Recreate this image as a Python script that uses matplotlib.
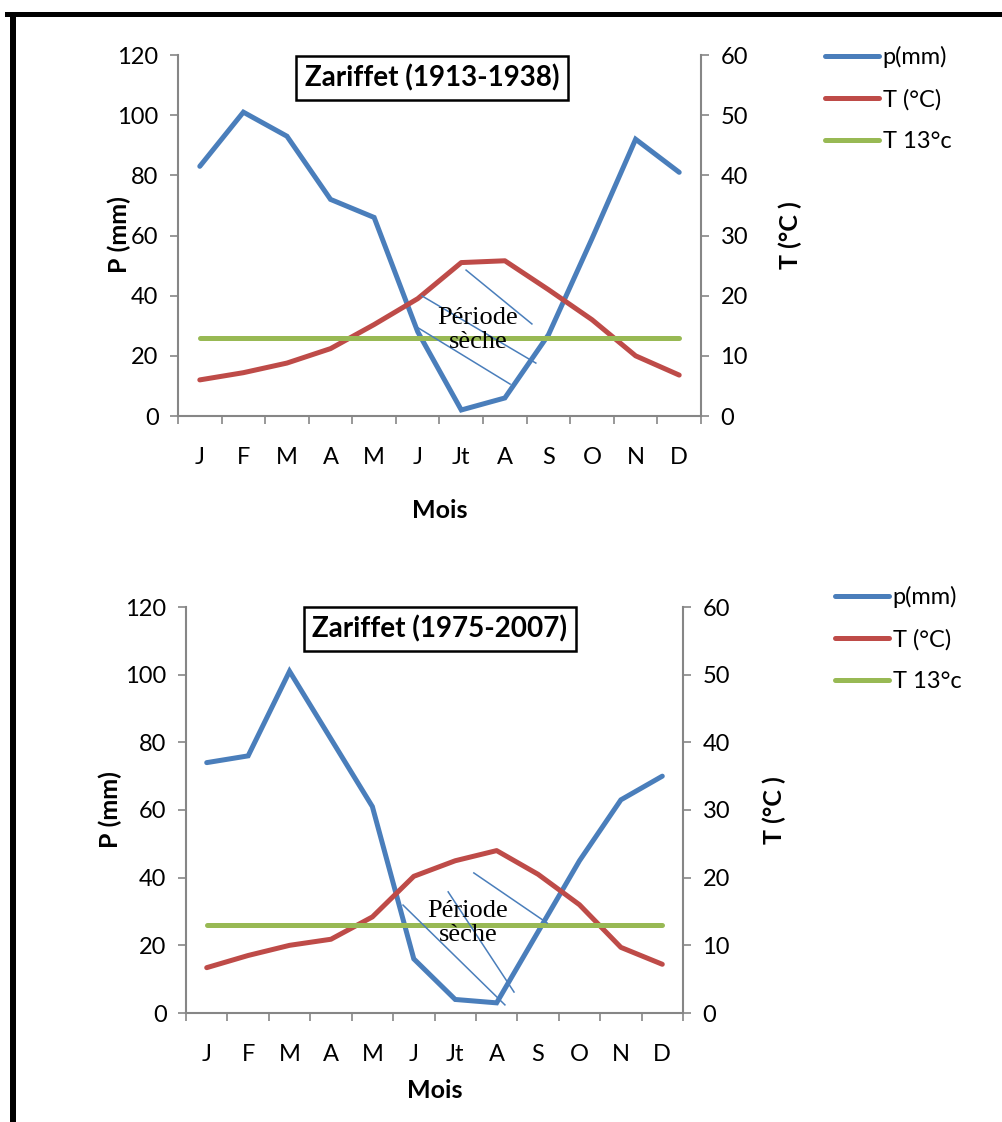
import numpy as np
import matplotlib
matplotlib.use('Agg')
import matplotlib.pyplot as plt
from matplotlib.patches import Rectangle

plt.rcParams['font.family'] = ['Lato', 'DejaVu Sans']

# --- DONNEES ---
mois = ['J', 'F', 'M', 'A', 'M', 'J', 'Jt', 'A', 'S', 'O', 'N', 'D']

p_1913 = [83, 101, 93, 72, 66, 28, 2, 6, 27, 59, 92, 81]
t_1913 = [6.0, 7.2, 8.8, 11.2, 15.2, 19.5, 25.5, 25.8, 21.0, 16.0, 10.0, 6.8]

p_1975 = [74, 76, 101, 81, 61, 16, 4, 3, 24, 45, 63, 70]
t_1975 = [6.7, 8.5, 10.0, 10.9, 14.2, 20.2, 22.5, 24.0, 20.5, 16.0, 9.7, 7.2]

t_seuil = 13

# traits de hachure "Période sèche" (x = index mois, y = P en mm)
hach_1913 = [((6.11, 48.5), (7.62, 30.6)),
             ((5.10, 39.9), (7.71, 17.6)),
             ((5.01, 29.3), (7.12, 10.6))]
hach_1975 = [((6.45, 41.4), (8.22, 26.6)),
             ((5.83, 35.8), (7.42, 6.2)),
             ((4.74, 31.9), (7.20, 2.4))]

BLEU = '#4A7EBB'
ROUGE = '#BE4B48'
VERT = '#98B954'
GRIS = '#868686'

W, H = 1003, 1122
fig = plt.figure(figsize=(W / 100, H / 100), dpi=100)


def px(x0, y0, x1, y1):
    return [x0 / W, 1 - y1 / H, (x1 - x0) / W, (y1 - y0) / H]


def climato(rect, p, t, hach, titre, titre_xy, texte_xy, leg_xy,
            plab_x, tlab_x, lab_y, mois_pad):
    ax = fig.add_axes(rect)
    ax2 = ax.twinx()
    x = np.arange(len(mois))

    lp, = ax.plot(x, p, color=BLEU, lw=3.6, solid_capstyle='round', solid_joinstyle='miter')
    lt, = ax2.plot(x, t, color=ROUGE, lw=3.6, solid_capstyle='round')
    ls, = ax2.plot(x, [t_seuil] * len(x), color=VERT, lw=3.6, solid_capstyle='round')

    for (a, b) in hach:
        ax2.plot([a[0], b[0]], [a[1], b[1]], color=BLEU, lw=1.1, transform=ax.transData)
    ax2.text(texte_xy[0], texte_xy[1], 'Période\nsèche', transform=ax.transData,
             ha='center', va='center', fontsize=19, family='Liberation Serif',
             linespacing=1.15)

    ax.set_xlim(-0.5, 11.5)
    ax.set_ylim(0, 120)
    ax2.set_ylim(0, 60)
    ax.set_yticks(np.arange(0, 121, 20))
    ax2.set_yticks(np.arange(0, 61, 10))

    ax.set_xticks(np.arange(-0.5, 12, 1))
    ax.set_xticklabels([])
    ax.set_xticks(x, minor=True)
    ax.set_xticklabels(mois, minor=True)
    ax.tick_params(axis='x', which='minor', length=0, pad=mois_pad, labelsize=17)
    ax.tick_params(axis='x', which='major', length=6, color=GRIS, width=1.2)
    ax.tick_params(axis='y', length=6, color=GRIS, width=1.2, labelsize=17, pad=8)
    ax2.tick_params(axis='y', length=6, color=GRIS, width=1.2, labelsize=17, pad=8)

    for s in ['top', 'right']:
        ax.spines[s].set_visible(False)
    for s in ['top', 'left', 'bottom']:
        ax2.spines[s].set_visible(False)
    for sp in [ax.spines['left'], ax.spines['bottom'], ax2.spines['right']]:
        sp.set_color(GRIS)
        sp.set_linewidth(1.5)

    fig.text(titre_xy[0] / W, 1 - titre_xy[1] / H, titre, ha='center', va='center',
             fontsize=20, fontweight='bold',
             bbox=dict(boxstyle='square,pad=0.3', fc='white', ec='black', lw=1.8))

    fig.text(plab_x / W, 1 - lab_y[0] / H, 'P (mm)', rotation=90, ha='center', va='center',
             fontsize=18, fontweight='bold')
    fig.text(tlab_x / W, 1 - lab_y[0] / H, 'T (°C )', rotation=90, ha='center', va='center',
             fontsize=18, fontweight='bold')
    fig.text(lab_y[2] / W, 1 - lab_y[1] / H, 'Mois', ha='center', va='center',
             fontsize=18, fontweight='bold')

    fig.legend([lp, lt, ls], ['p(mm)', 'T (°C)', 'T 13°c'], loc='upper left',
               bbox_to_anchor=(leg_xy[0] / W, 1 - leg_xy[1] / H), frameon=False,
               fontsize=17, handlelength=2.3, handletextpad=0.15, labelspacing=0.88,
               borderpad=0, borderaxespad=0)
    return ax


climato(px(178, 55, 701, 416), p_1913, t_1913, hach_1913, 'Zariffet (1913-1938)',
        (432, 78), (6.38, 28.6), (825, 46), 119, 790, (235, 510, 440), 22)
climato(px(186, 607, 683, 1013), p_1975, t_1975, hach_1975, 'Zariffet (1975-2007)',
        (440, 629), (6.31, 26.6), (835, 586), 110, 774, (810, 1090, 435), 22)

# cadre noir (haut et gauche)
fig.add_artist(Rectangle((5 / W, 1 - 17 / H), 1, 5 / H, transform=fig.transFigure,
                         color='black', lw=0))
fig.add_artist(Rectangle((10 / W, 0), 6 / W, 1 - 12 / H, transform=fig.transFigure,
                         color='black', lw=0))

fig.savefig('out.png', dpi=100)
